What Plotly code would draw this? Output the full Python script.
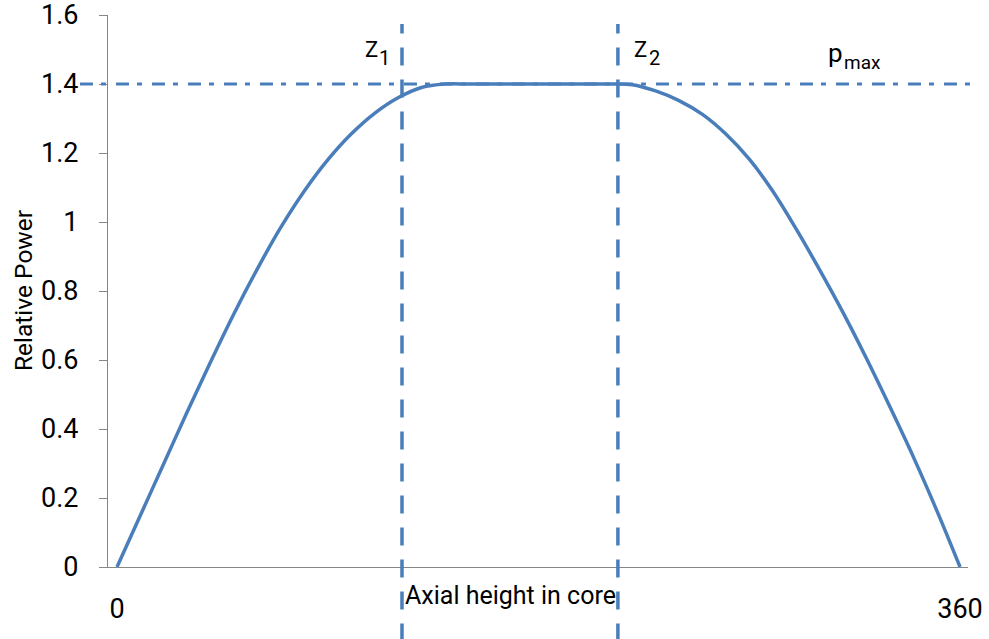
import plotly.graph_objects as go

# Axial position (0..360) and relative power
axial = [0, 10, 20, 30, 40, 50, 60, 70, 80, 90, 100, 110, 120, 130, 140,
         150, 160, 170, 180, 190, 200, 210, 220, 230, 240, 250, 260, 270,
         280, 290, 300, 310, 320, 330, 340, 350, 360]
power = [0, 0.15, 0.30, 0.45, 0.595, 0.735, 0.865, 0.985, 1.09, 1.18, 1.255, 1.315, 1.36, 1.39, 1.40,
         1.40, 1.40, 1.40, 1.40, 1.40, 1.40, 1.40, 1.398, 1.38, 1.352, 1.312, 1.255, 1.182,
         1.09, 0.98, 0.862, 0.738, 0.605, 0.465, 0.32, 0.165, 0]

z1 = 121.7
z2 = 213.9
p_max = 1.4

y_ticks = [0, 0.2, 0.4, 0.6, 0.8, 1.0, 1.2, 1.4, 1.6]
y_tick_text = ["0", "0.2", "0.4", "0.6", "0.8", "1", "1.2", "1.4", "1.6"]
x_ticks = [0, 360]
x_tick_text = ["0", "360"]

BLUE = "#4A7EBB"
GRAY = "#868686"
FONT = "Roboto"

fig = go.Figure()
fig.add_trace(go.Scatter(
    x=axial, y=power, mode="lines",
    line=dict(color=BLUE, width=3.5, shape="spline", smoothing=1.0),
    showlegend=False, hoverinfo="skip",
))

fig.update_layout(
    width=989, height=639,
    margin=dict(l=108, r=21, t=15, b=72),
    paper_bgcolor="white", plot_bgcolor="white",
    font=dict(family=FONT, color="black"),
    xaxis=dict(
        range=[-3.84, 363.4], showgrid=False, zeroline=False,
        showline=True, linecolor=GRAY, linewidth=1.3,
        tickvals=x_ticks, ticktext=x_tick_text, ticks="",
        tickfont=dict(size=27, family=FONT, color="black"),
        ticklabelstandoff=17, automargin=False, ticklabeloverflow="allow",
    ),
    yaxis=dict(
        range=[0, 1.6001], showgrid=False, zeroline=False,
        showline=True, linecolor=GRAY, linewidth=1.3,
        tickvals=y_ticks, ticktext=y_tick_text,
        ticks="outside", ticklen=8, tickcolor=GRAY, tickwidth=1.3,
        tickfont=dict(size=27, family=FONT, color="black"),
        ticklabelstandoff=15, automargin=False, ticklabeloverflow="allow",
    ),
)

# p_max dash-dot line
fig.add_shape(type="line", xref="paper", yref="y",
              x0=-0.0326, x1=1.008, y0=p_max, y1=p_max,
              line=dict(color=BLUE, width=3, dash="13px,8px,5px,10px"),
              layer="above")
# z1, z2 dashed vertical lines
for zx in (z1, z2):
    fig.add_shape(type="line", xref="x", yref="paper",
                  x0=zx, x1=zx, y0=-0.135, y1=0.9837,
                  line=dict(color=BLUE, width=3.5, dash="18px,14px"),
                  layer="above")

# labels: main letter (right-anchored) followed by its subscript (left-anchored)
ann = [
    dict(text="Z", x=0.3134, y=0.9366, size=22, xa="right"),
    dict(text="1", x=0.3146, y=0.923, size=20, xa="left"),
    dict(text="Z", x=0.6273, y=0.9366, size=22, xa="right"),
    dict(text="2", x=0.6285, y=0.922, size=20, xa="left"),
    dict(text="p", x=0.8541, y=0.9312, size=26, xa="right"),
    dict(text="max", x=0.8553, y=0.9141, size=19, xa="left"),
    dict(text="Axial height in core", x=0.4686, y=-0.0525, size=25, xa="center"),
]
for a in ann:
    fig.add_annotation(text=a["text"], xref="paper", yref="paper",
                       x=a["x"], y=a["y"], xanchor=a["xa"], yanchor="middle",
                       showarrow=False, borderpad=0, borderwidth=0,
                       font=dict(size=a["size"], family=FONT, color="black"))

fig.add_annotation(text="Relative Power", xref="paper", yref="paper",
                   x=-0.0988, y=0.5, xanchor="center", yanchor="middle",
                   textangle=-90, showarrow=False,
                   font=dict(size=24.5, family=FONT, color="black"))

fig.write_html("out.html", config={"displayModeBar": False},
               post_script="document.body.style.margin='0px';")
